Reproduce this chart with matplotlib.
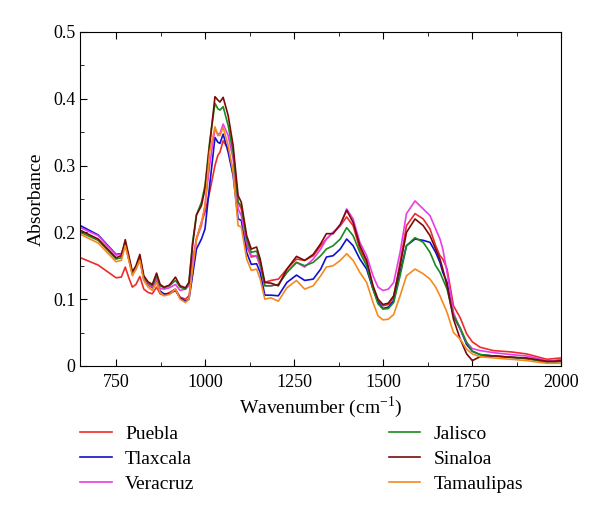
import matplotlib
matplotlib.use('Agg')
import matplotlib.pyplot as plt
from matplotlib.ticker import MultipleLocator, FuncFormatter

plt.rcParams['font.family'] = ['Liberation Serif', 'DejaVu Serif']
plt.rcParams['mathtext.fontset'] = 'custom'
plt.rcParams['mathtext.rm'] = 'Liberation Serif'

# wavenumber grid (cm-1)
wn = [650, 700, 750, 765, 776, 786, 796, 806, 817, 828, 840, 852, 864, 874, 885, 900, 917, 930, 945, 955,
      965, 976, 990, 1000, 1013, 1028, 1036, 1042, 1051, 1065, 1079, 1093, 1102, 1117, 1130, 1145, 1155, 1168,
      1185, 1206, 1230, 1257, 1280, 1304, 1325, 1341, 1360, 1380, 1398, 1416, 1435, 1454, 1472, 1486, 1500,
      1515, 1530, 1548, 1566, 1590, 1613, 1632, 1648, 1660, 1668, 1680, 1698, 1717, 1735, 1751, 1773, 1810,
      1860, 1904, 1960, 1980, 2000]

puebla = [0.162, 0.151, 0.132, 0.133, 0.148, 0.132, 0.118, 0.122, 0.134, 0.115, 0.110, 0.108, 0.118, 0.108,
          0.106, 0.110, 0.115, 0.103, 0.100, 0.105, 0.140, 0.190, 0.215, 0.230, 0.260, 0.300, 0.315, 0.320,
          0.337, 0.325, 0.290, 0.245, 0.235, 0.180, 0.163, 0.165, 0.150, 0.125, 0.128, 0.130, 0.145, 0.160,
          0.158, 0.165, 0.180, 0.190, 0.200, 0.210, 0.223, 0.210, 0.175, 0.155, 0.118, 0.097, 0.090, 0.092,
          0.103, 0.155, 0.210, 0.228, 0.220, 0.205, 0.180, 0.165, 0.160, 0.145, 0.090, 0.072, 0.048, 0.036,
          0.028, 0.023, 0.021, 0.018, 0.010, 0.011, 0.012]

tlaxcala = [0.210, 0.196, 0.167, 0.168, 0.183, 0.160, 0.138, 0.145, 0.160, 0.130, 0.122, 0.117, 0.128, 0.112,
            0.108, 0.108, 0.113, 0.102, 0.097, 0.100, 0.135, 0.175, 0.190, 0.205, 0.270, 0.342, 0.335, 0.333,
            0.347, 0.320, 0.285, 0.220, 0.218, 0.170, 0.152, 0.153, 0.140, 0.106, 0.106, 0.105, 0.125, 0.136,
            0.128, 0.130, 0.145, 0.163, 0.165, 0.175, 0.190, 0.180, 0.160, 0.145, 0.115, 0.095, 0.086, 0.088,
            0.098, 0.140, 0.180, 0.190, 0.188, 0.185, 0.170, 0.155, 0.140, 0.125, 0.075, 0.055, 0.032, 0.022,
            0.017, 0.015, 0.013, 0.011, 0.006, 0.006, 0.007]

veracruz = [0.207, 0.195, 0.166, 0.167, 0.182, 0.160, 0.138, 0.147, 0.160, 0.130, 0.122, 0.118, 0.130, 0.116,
            0.115, 0.117, 0.122, 0.113, 0.115, 0.120, 0.160, 0.190, 0.210, 0.240, 0.300, 0.355, 0.347, 0.348,
            0.362, 0.345, 0.310, 0.235, 0.225, 0.185, 0.165, 0.165, 0.150, 0.120, 0.120, 0.122, 0.140, 0.155,
            0.148, 0.160, 0.175, 0.190, 0.200, 0.210, 0.235, 0.220, 0.185, 0.165, 0.135, 0.118, 0.113, 0.115,
            0.125, 0.170, 0.228, 0.247, 0.235, 0.225, 0.205, 0.190, 0.175, 0.140, 0.080, 0.055, 0.035, 0.026,
            0.023, 0.020, 0.017, 0.015, 0.008, 0.008, 0.010]

jalisco = [0.200, 0.188, 0.160, 0.162, 0.185, 0.162, 0.138, 0.148, 0.163, 0.133, 0.124, 0.120, 0.135, 0.120,
           0.117, 0.120, 0.128, 0.118, 0.115, 0.125, 0.185, 0.226, 0.245, 0.270, 0.335, 0.393, 0.385, 0.383,
           0.388, 0.360, 0.320, 0.245, 0.240, 0.190, 0.170, 0.172, 0.155, 0.120, 0.120, 0.122, 0.140, 0.155,
           0.150, 0.155, 0.165, 0.175, 0.180, 0.190, 0.207, 0.195, 0.170, 0.150, 0.115, 0.093, 0.085, 0.086,
           0.095, 0.135, 0.180, 0.192, 0.185, 0.170, 0.150, 0.140, 0.130, 0.115, 0.075, 0.057, 0.035, 0.022,
           0.017, 0.015, 0.013, 0.011, 0.006, 0.006, 0.007]

sinaloa = [0.203, 0.190, 0.162, 0.165, 0.189, 0.165, 0.141, 0.150, 0.167, 0.135, 0.126, 0.122, 0.139, 0.122,
           0.118, 0.121, 0.133, 0.120, 0.117, 0.125, 0.180, 0.226, 0.240, 0.265, 0.330, 0.403, 0.398, 0.395,
           0.402, 0.375, 0.330, 0.255, 0.245, 0.195, 0.175, 0.178, 0.160, 0.125, 0.124, 0.120, 0.145, 0.164,
           0.158, 0.167, 0.183, 0.198, 0.198, 0.212, 0.233, 0.215, 0.180, 0.158, 0.120, 0.100, 0.092, 0.094,
           0.105, 0.150, 0.200, 0.220, 0.210, 0.195, 0.175, 0.160, 0.145, 0.120, 0.070, 0.040, 0.018, 0.008,
           0.014, 0.015, 0.013, 0.012, 0.007, 0.007, 0.008]

tamaulipas = [0.197, 0.184, 0.156, 0.158, 0.180, 0.158, 0.135, 0.145, 0.158, 0.128, 0.118, 0.113, 0.125, 0.110,
              0.105, 0.107, 0.115, 0.100, 0.095, 0.100, 0.145, 0.190, 0.215, 0.240, 0.320, 0.358, 0.345, 0.345,
              0.357, 0.330, 0.290, 0.210, 0.208, 0.160, 0.143, 0.145, 0.130, 0.100, 0.102, 0.097, 0.117, 0.128,
              0.115, 0.120, 0.135, 0.148, 0.150, 0.158, 0.168, 0.158, 0.140, 0.125, 0.095, 0.075, 0.069, 0.070,
              0.077, 0.105, 0.135, 0.145, 0.138, 0.130, 0.118, 0.105, 0.095, 0.080, 0.050, 0.040, 0.025, 0.018,
              0.014, 0.012, 0.010, 0.008, 0.004, 0.004, 0.004]

names = ['Puebla', 'Tlaxcala', 'Veracruz', 'Jalisco', 'Sinaloa', 'Tamaulipas']
colors = ['#ee2a2a', '#1010d0', '#e83ce8', '#1a8a1a', '#7a0a0a', '#f48a1e']
series = [puebla, tlaxcala, veracruz, jalisco, sinaloa, tamaulipas]

fig = plt.figure(figsize=(6, 5.14), dpi=100)
ax = fig.add_axes([0.134, 0.288, 0.801, 0.650])

for s, c, n in zip(series, colors, names):
    ax.plot(wn, s, color=c, lw=1.2, label=n)

ax.set_xlim(650, 2000)
ax.set_ylim(0, 0.5)
ax.xaxis.set_major_locator(MultipleLocator(250))
ax.xaxis.set_minor_locator(MultipleLocator(125))
ax.yaxis.set_major_locator(MultipleLocator(0.1))
ax.yaxis.set_minor_locator(MultipleLocator(0.05))
ax.yaxis.set_major_formatter(FuncFormatter(lambda v, p: '%g' % round(v, 2)))
ax.tick_params(which='both', direction='in', top=True, right=False, labelsize=13)
ax.tick_params(which='major', length=5)
ax.tick_params(which='minor', length=3)
ax.tick_params(axis='x', pad=6)
ax.set_xlabel('Wavenumber (cm$^{-1}$)', fontsize=14, labelpad=2)
ax.set_ylabel('Absorbance', fontsize=14, labelpad=6)

fig.legend(loc='upper left', bbox_to_anchor=(0.134, 0.173), ncol=2, frameon=False,
           fontsize=14, handlelength=1.6, handletextpad=0.7, columnspacing=10.0,
           labelspacing=0.38, borderpad=0, borderaxespad=0)

fig.savefig('out.png', dpi=100)
